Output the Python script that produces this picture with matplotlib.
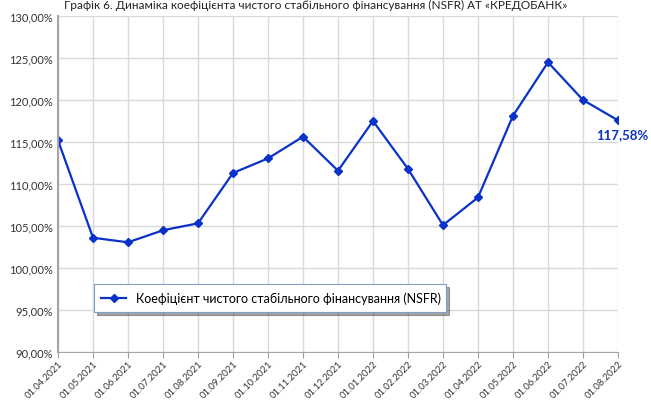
import matplotlib.pyplot as plt
from matplotlib.ticker import FuncFormatter

# дані
dates = ['01.04.2021', '01.05.2021', '01.06.2021', '01.07.2021', '01.08.2021',
         '01.09.2021', '01.10.2021', '01.11.2021', '01.12.2021', '01.01.2022',
         '01.02.2022', '01.03.2022', '01.04.2022', '01.05.2022', '01.06.2022',
         '01.07.2022', '01.08.2022']
nsfr = [115.2, 103.6, 103.06, 104.49, 105.32, 111.31, 113.05, 115.63, 111.58,
        117.5, 111.8, 105.1, 108.4, 118.13, 124.49, 120.0, 117.58]

title = 'Графік 6. Динаміка коефіцієнта чистого стабільного фінансування (NSFR) АТ «КРЕДОБАНК»'
series_name = 'Коефіцієнт чистого стабільного фінансування (NSFR)'

plt.rcParams['font.family'] = ['Lato', 'DejaVu Sans']
blue = '#0a32c8'

fig = plt.figure(figsize=(6.51, 4.02), dpi=100)
ax = fig.add_axes([0.0891, 0.1219, 0.8602, 0.8358])

x = list(range(len(dates)))
ax.plot(x, nsfr, color=blue, lw=1.6, marker='D', ms=4.5, label=series_name)

ax.set_xlim(0, len(dates) - 1)
ax.set_ylim(90, 130)
ax.set_yticks(range(90, 131, 5))
ax.yaxis.set_major_formatter(FuncFormatter(lambda v, p: f'{v:.2f}%'.replace('.', ',')))
ax.set_xticks(x)
ax.set_xticklabels(dates, rotation=45, ha='right', rotation_mode='anchor', fontsize=6.8, color='#333333')
ax.tick_params(axis='y', labelsize=8, length=0, colors='#333333', pad=4)
ax.tick_params(axis='x', length=4, color='#a0a0a0', pad=1)

ax.grid(True, color='#d9d9d9', lw=1)
ax.set_axisbelow(True)
for s in ['top', 'right']:
    ax.spines[s].set_visible(False)
ax.spines['left'].set_color('#a6a6a6')
ax.spines['left'].set_linewidth(1.5)
ax.spines['bottom'].set_color('#a6a6a6')

# підпис останнього значення
ax.annotate(f'{nsfr[-1]:.2f}%'.replace('.', ','), (x[-1], nsfr[-1]),
            xytext=(-16, -13), textcoords='offset points',
            color=blue, fontsize=9.5, fontweight='bold', annotation_clip=False)

leg = ax.legend(loc='center', bbox_to_anchor=(0.064, 0.113, 0.629, 0.095), mode='expand',
                fontsize=9, fancybox=False, shadow=True, frameon=True, borderaxespad=0,
                handlelength=2.0, borderpad=0.6, markerscale=0.8)
leg.get_frame().set_edgecolor('#7fa0c8')
leg.get_frame().set_linewidth(0.8)
leg._legend_box.align = 'center'

fig.text(0.485, 0.999, title, ha='center', va='top', fontsize=8.5, color='#222222')

fig.savefig('out.png', dpi=100)
